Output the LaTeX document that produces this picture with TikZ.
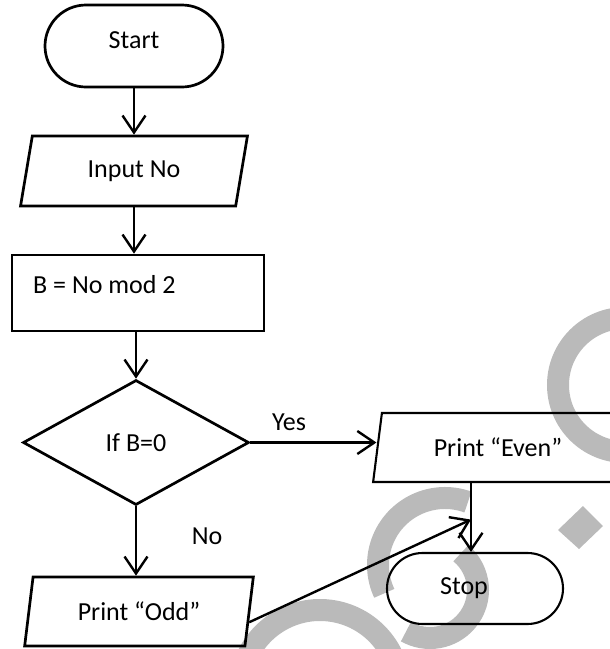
\documentclass[tikz,border=0pt]{standalone}
\usepackage{fontspec}
\setmainfont{Carlito}
\usetikzlibrary{shapes.geometric,shapes.misc,arrows.meta,calc}
\definecolor{wmgrey}{RGB}{186,186,186}
\begin{document}
\begin{tikzpicture}[x=1pt,y=-1pt,
  font=\fontsize{26}{30}\selectfont,
  base/.style={draw=black, line width=2.7pt, inner sep=0pt},
  thinb/.style={line width=2.1pt},
  term/.style={base, rounded rectangle},
  io/.style={base, trapezium, trapezium left angle=75.6, trapezium right angle=104.4, trapezium stretches=true},
  proc/.style={base, rectangle},
  decide/.style={base, diamond, aspect=1.8},
  arr/.style={line width=2.4pt, -{Straight Barb[length=17pt,width=23pt,line width=2.4pt]}},
  wm/.style={line width=22pt, draw=wmgrey},
  lbl/.style={inner sep=0pt}
]
\useasboundingbox (0,0) rectangle (610,649);
\clip (0,0) rectangle (610,649);
% watermark
\draw[wm] (625,385) circle[radius=67];
\draw[wm] (445,565) ++(-70:67) arc[start angle=-70, end angle=-205, radius=67];
\draw[wm] (430,590) ++(-50:48) arc[start angle=-50, end angle=120, radius=48];
\draw[wm] (320,690) ++(-170:80) arc[start angle=-170, end angle=-10, radius=80];
\fill[wmgrey] (583,506) -- (603,526) -- (579,549) -- (558,530) -- cycle;
% nodes
\node[term, minimum width=178, minimum height=82] (start) at (134,46) {\raisebox{6pt}[\height][\depth]{Start}};
\node[io, minimum width=227, minimum height=70] (input) at (134,171) {Input No};
\node[proc, minimum width=252, minimum height=76] (calc) at (138,293) {};
\node[lbl, anchor=west] (calct) at (33,285) {B = No mod 2};
\node[decide, minimum width=226, minimum height=125] (dec) at (136,442.5) {If B=0};
\node[io, minimum width=229, minimum height=69] (odd) at (139,611.5) {Print “Odd”};
\node[io, thinb, minimum width=250, minimum height=69] (even) at (498,447.5) {Print “Even”};
\node[term, thinb, minimum width=176, minimum height=71] (stop) at (475,588.5) {Stop\hspace*{22pt}};
\node[lbl] (yes) at (289,422) {Yes};
\node[lbl] (no) at (207,536) {No};
% connectors
\draw[arr] (start.south) -- (start.south |- input.north);
\draw[arr] (input.south) -- (input.south |- calc.north);
\draw[arr] (dec.north |- calc.south) -- (dec.north);
\draw[arr] (dec.south) -- (dec.south |- odd.north);
\draw[arr] (dec.east) -- (dec.east -| even.west);
\draw[arr] ([xshift=-4pt]stop.north |- even.south) -- ([xshift=-4pt]stop.north);
\coordinate (j) at ($([xshift=-4pt]stop.north |- even.south)!0.53!([xshift=-4pt]stop.north)$);
\coordinate (oddr) at ($(odd.top right corner)!0.65!(odd.bottom right corner)$);
\draw[arr] (oddr) -- (j);
\end{tikzpicture}
\end{document}
